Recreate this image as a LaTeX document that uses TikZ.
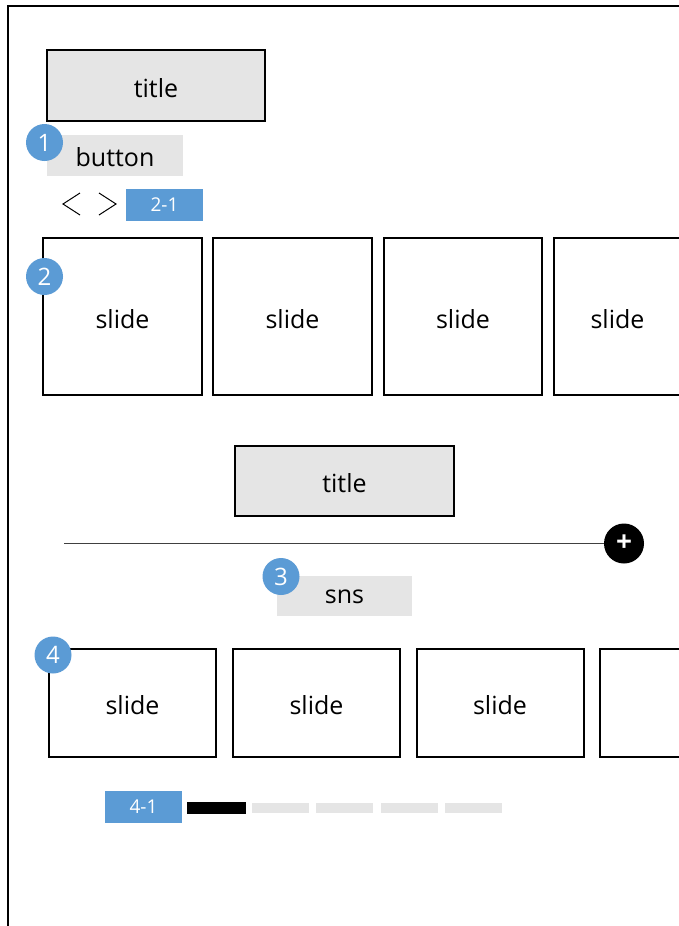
\documentclass[tikz,border=0pt]{standalone}
\usepackage{fontspec}
\setmainfont{Open Sans}
\definecolor{boxgray}{HTML}{E5E5E5}
\definecolor{tagblue}{HTML}{5B9BD5}
\definecolor{rulegray}{HTML}{404040}
\tikzset{
  bigtext/.style={font=\fontsize{25}{29}\selectfont},
  lowtext/.style={text height=23pt, text depth=0pt},
  titlebox/.style={draw=black, line width=2pt, fill=boxgray, minimum width=218pt, minimum height=71pt, inner sep=0pt, bigtext, lowtext},
  slidebox/.style={draw=black, line width=2pt, fill=white, inner sep=0pt, bigtext, lowtext},
  labelbox/.style={fill=boxgray, inner sep=0pt},
  tagbox/.style={fill=tagblue, text=white, inner sep=0pt, font=\fontsize{19}{22}\selectfont},
  badge/.style={circle, fill=tagblue, text=white, minimum size=37pt, inner sep=0pt, font=\fontsize{24}{26}\selectfont},
  pagebar/.style={fill=boxgray, minimum width=57pt, minimum height=10pt, inner sep=0pt},
  chevron/.style={line width=1pt, black},
}
\begin{document}
\begin{tikzpicture}[x=1pt, y=-1pt]
\useasboundingbox (0,0) rectangle (679,926);
\clip (0,0) rectangle (679,926);
\fill[white] (0,0) rectangle (679,926);

% page frame, running off the right and bottom edges
\draw[line width=2pt] (8,5.5) rectangle (720,960);

% --- header block ---
\node[titlebox] (title1) at (156,85.5) {title};
\node[labelbox, minimum width=136pt, minimum height=41pt] (button) at (115,155.5) {};
\node[bigtext] at (115,157.5) {button};
\node[badge] (b1) at (44.5,142.5) {1};

% previous / next chevrons and the counter
\coordinate (pa) at (80,193);
\coordinate (pb) at (63,204);
\coordinate (pc) at (80,215);
\coordinate (na) at (99,193);
\coordinate (nb) at (116,204);
\coordinate (nc) at (99,215);
\draw[chevron] (pa) -- (pb) -- (pc);
\draw[chevron] (na) -- (nb) -- (nc);
\node[tagbox, minimum width=77pt, minimum height=32pt] (t21) at (164.5,205) {2-1};

% --- first slide row ---
\node[slidebox, minimum width=159pt, minimum height=157pt] (s1) at (122.5,316.5) {slide};
\node[slidebox, minimum width=159pt, minimum height=157pt] (s2) at (292.5,316.5) {slide};
\node[slidebox, minimum width=158pt, minimum height=157pt] (s3) at (463,316.5) {slide};
\node[slidebox, minimum width=127pt, minimum height=157pt] (s4) at (617.5,316.5) {slide};
\node[badge] (b2) at (44.5,276.5) {2};

% --- second block ---
\node[titlebox, minimum width=219pt, minimum height=70pt] (title2) at (344.5,481) {title};
\node[circle, fill=black, minimum size=40pt, inner sep=0pt, text=white, font=\fontsize{28}{28}\bfseries] (plus) at (624,543.5) {+};
\coordinate (ruleL) at (64,543.5);
\draw[rulegray, line width=1.5pt] (ruleL) -- (plus);

\node[labelbox, minimum width=135pt, minimum height=40pt] (sns) at (344.5,595.5) {};
\node[bigtext] at (344.5,597) {sns};
\node[badge] (b3) at (281,576.5) {3};

% --- second slide row ---
\node[slidebox, minimum width=167pt, minimum height=108pt] (r1) at (132.5,702.5) {slide};
\node[slidebox, minimum width=167pt, minimum height=108pt] (r2) at (316.5,702.5) {slide};
\node[slidebox, minimum width=167pt, minimum height=108pt] (r3) at (500,702.5) {slide};
\node[slidebox, minimum width=167pt, minimum height=108pt] (r4) at (683.5,702.5) {};
\node[badge] (b4) at (53,655) {4};

% --- pager ---
\node[tagbox, minimum width=77pt, minimum height=32pt] (t41) at (143.5,807) {4-1};
\node[fill=black, minimum width=59pt, minimum height=12pt, inner sep=0pt] (bar0) at (216.5,808) {};
\node[pagebar] (bar1) at (280.5,808) {};
\node[pagebar] (bar2) at (344.5,808) {};
\node[pagebar] (bar3) at (409,808) {};
\node[pagebar] (bar4) at (473.5,808) {};
\end{tikzpicture}
\end{document}
